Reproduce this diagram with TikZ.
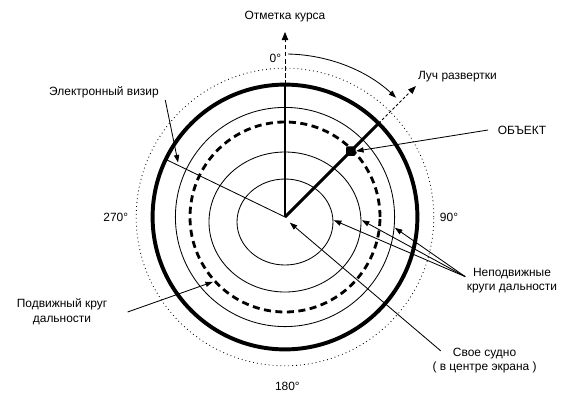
\documentclass[tikz,border=0pt]{standalone}
\usepackage{fontspec}
\setmainfont{Liberation Sans}
\usetikzlibrary{arrows.meta,calc}
\definecolor{ink}{HTML}{000000}

\begin{document}
\begin{tikzpicture}[x=1cm,y=1cm,line join=round,font=\fontsize{8.5}{10.5}\selectfont,
  lbl/.style={text=ink,align=center,inner sep=1pt},
  thinline/.style={ink,line width=.6pt},
  ptr/.style={thinline,-{Triangle[length=1.9mm,width=1.3mm]}},
  ring/.style={thinline},
  boldring/.style={ink,line width=2.8pt},
  dashring/.style={ink,line width=2pt,dash pattern=on 5pt off 3.2pt},
  dotring/.style={ink,line width=.6pt,dash pattern=on .6pt off 2.2pt},
  beam/.style={ink,line width=2.1pt}]
  \path[use as bounding box] (-7.125,-4.7) rectangle (7.425,5.425);
  \fill[white] (-7.125,-4.7) rectangle (7.425,5.425);

  \coordinate (own) at (0,0);

  % range rings
  \draw[ring] (0,-.125) ellipse[x radius=1.2,y radius=1.075];
  \draw[ring] (0,-.125) ellipse[x radius=1.9,y radius=1.75];
  \draw[ring] (own) circle[radius=2.74];
  \draw[dashring] (own) circle[radius=2.375];
  \draw[boldring] (own) circle[radius=3.31];
  \draw[dotring] (own) circle[radius=3.72];

  % heading mark, sweep and bearing line
  \draw[beam] (own) -- (90:3.31);
  \draw[thinline,dash pattern=on 3pt off 2pt,-{Triangle[length=2mm,width=1.6mm]}] (90:3.31) -- (90:4.625);
  \draw[beam] (own) -- (45:3.31);
  \draw[thinline,dash pattern=on 2pt off 1.5pt,-{Triangle[length=2mm,width=1.5mm]}] (45:3.31) -- (45:4.63);
  \draw[thinline] (own) -- (154.2:3.31);
  \draw[ptr] (89:4.075) arc[start angle=89,end angle=47,radius=4.075];
  \node[fill=ink,minimum size=.24cm,inner sep=0,rounded corners=1pt] (obj) at (45:2.33) {};

  % marks the pointers go to
  \coordinate (eblmark) at (153:3.0);
  \coordinate (vrmmark) at (222:2.42);
  \coordinate (ringa) at (1.22,-.08);
  \coordinate (ringb) at (1.92,-.08);
  \coordinate (ringc) at (-5.6:2.76);
  \coordinate (ownmark) at (.12,-.14);

  % labels
  \node[lbl] (lhead) at (0,5.0) {Отметка курса};
  \node[lbl] (lzero) at (-.24,3.975) {0°};
  \node[lbl] (lsweep) at (4.31,3.5) {Луч развертки};
  \node[lbl] (lobj) at (5.925,2.175) {ОБЪЕКТ};
  \node[lbl] (lebl) at (-4.525,3.125) {Электронный визир};
  \node[lbl] (lw) at (-4.23,0) {270°};
  \node[lbl] (le) at (4.1,0) {90°};
  \node[lbl] (ls) at (.06,-4.24) {180°};
  \node[lbl] (lvrm) at (-5.575,-2.375) {Подвижный круг\\дальности};
  \node[lbl] (lfixed) at (5.675,-1.59) {Неподвижные\\круги дальности};
  \node[lbl] (lown) at (4.99,-3.59) {Свое судно\\( в центре экрана )};

  % pointers
  \draw[ptr] ([shift={(.12,-.2)}]lebl.east) -- (eblmark);
  \draw[ptr] ([xshift=-.2cm]lobj.west) -- (obj.east);
  \draw[ptr] ([xshift=.47cm]lvrm.east) -- (vrmmark);
  \draw[ptr] ([yshift=.1cm]lfixed.west) -- (ringa);
  \draw[ptr] ([yshift=.1cm]lfixed.west) -- (ringb);
  \draw[ptr] ([yshift=.1cm]lfixed.west) -- (ringc);
  \draw[ptr] ([shift={(.25,-.12)}]lown.north west) -- (ownmark);
\end{tikzpicture}
\end{document}
